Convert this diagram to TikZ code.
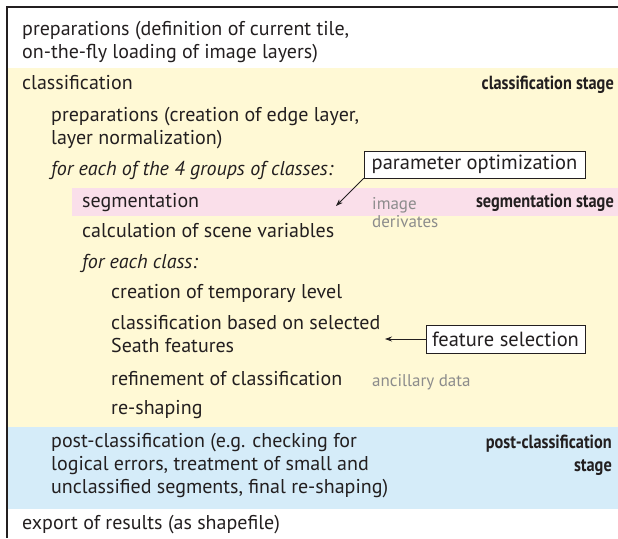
\documentclass[tikz,border=0pt]{standalone}
\usepackage{fontspec}
\setmainfont{PT Sans}
\newfontfamily\stagefont{PT Sans}[FakeStretch=0.86]
\usetikzlibrary{arrows.meta}
\definecolor{ink}{HTML}{231F20}
\definecolor{stageYellow}{HTML}{FFF9D5}
\definecolor{stagePink}{HTML}{FADFEA}
\definecolor{stageBlue}{HTML}{D5ECF9}
\definecolor{noteGray}{HTML}{8C8C8C}
\tikzset{
	item/.style={anchor=base west,inner sep=0pt,align=left,text=ink,font=\fontsize{20}{23}\selectfont},
	stage/.style={anchor=base east,inner sep=0pt,text=ink,font=\stagefont\bfseries\fontsize{19}{23}\selectfont},
	note/.style={anchor=base west,inner sep=0pt,align=left,text=noteGray,font=\fontsize{17}{18}\selectfont},
	hint/.style={draw=ink,line width=0.9pt,fill=white,inner sep=0pt,text=ink,font=\fontsize{20.5}{21}\selectfont},
	link/.style={ink,line width=0.8pt,-{Stealth[length=7pt,width=5pt]}}
}
\begin{document}
\begin{tikzpicture}[x=1pt,y=-1pt,line cap=round]
	\useasboundingbox (0,0) rectangle (618,538);
	%% Stage bands
	\fill[stageYellow] (8,68) rectangle (618,427);
	\fill[stagePink] (72,188) rectangle (618,216);
	\fill[stageBlue] (8,427) rectangle (618,509);
	%% Frame
	\draw[ink,line width=2pt,line cap=butt] (618,7) -- (7,7) -- (7,538);
	%% Steps (multi-line nodes sit on their last baseline)
	\node[item] (prepTile) at (22,58) {preparations (definition of current tile,\\on-the-fly loading of image layers)};
	\node[item] (classif) at (22,89) {classification};
	\node[item] (prepEdge) at (51,144) {preparations (creation of edge layer,\\layer normalization)};
	\node[item] (forGroups) at (51,175) {\itshape for each of the 4 groups of classes:};
	\node[item] (segm) at (82,207) {segmentation};
	\node[item] (sceneVars) at (82,237) {calculation of scene variables};
	\node[item] (forClass) at (82,268) {\itshape for each class:};
	\node[item] (tempLevel) at (111,298) {creation of temporary level};
	\node[item] (classSel) at (111,352) {classification based on selected\\Seath features};
	\node[item] (refine) at (111,385) {refinement of classification};
	\node[item] (reshape) at (111,414) {re-shaping};
	\node[item] (postClass) at (51,493) {post-classification (e.g. checking for\\logical errors, treatment of small and\\unclassified segments, final re-shaping)};
	\node[item] (export) at (22,529) {export of results (as shapefile)};
	%% Stage labels
	\node[stage] (stageClass) at (614,89) {classification stage};
	\node[stage] (stageSegm) at (614,207) {segmentation stage};
	\node[stage,align=right] (stagePost) at (612,471) {post-classification\\stage};
	%% Inputs
	\node[note] (imgDeriv) at (372,227) {image\\derivates};
	\node[note] (ancData) at (372,386) {ancillary data};
	%% Tuning boxes
	\node[hint,minimum width=221pt,minimum height=27pt] (paramOpt) at (474.5,164.5) {parameter optimization};
	\node[hint,minimum width=159pt,minimum height=28pt] (featSel) at (505.5,339) {feature selection};
	\coordinate (segmTip) at (336,206);
	\coordinate (classTip) at (385,339);
	\draw[link] (paramOpt.south west) -- (segmTip);
	\draw[link] (featSel.west) -- (classTip);
\end{tikzpicture}
\end{document}
